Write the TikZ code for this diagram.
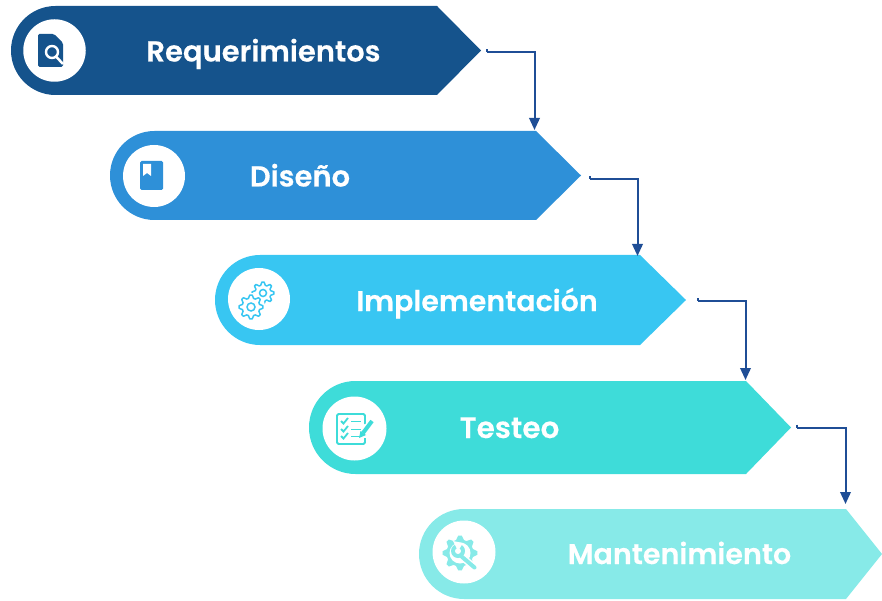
\documentclass[tikz,border=0pt]{standalone}
\usepackage{fontspec}
\setmainfont{Poppins}[BoldFont={Poppins SemiBold},BoldFeatures={FakeBold=0.3}]
\usetikzlibrary{arrows.meta,calc}
\definecolor{cA}{HTML}{15538C}
\definecolor{cB}{HTML}{2E90D8}
\definecolor{cC}{HTML}{38C6F2}
\definecolor{cD}{HTML}{3EDCD9}
\definecolor{cE}{HTML}{87EAE8}
\definecolor{link}{HTML}{1F4E96}
\newcommand{\stage}[7]{% name, colour, left, top, bottom, shoulder, tip
  \pgfmathsetmacro{\rr}{(#5-#4)/2}
  \pgfmathsetmacro{\mm}{(#5+#4)/2}
  \fill[#2] (#3+\rr,#4) -- (#6,#4) -- (#7,\mm) -- (#6,#5) -- (#3+\rr,#5)
     arc[start angle=-90,end angle=-270,radius=\rr pt];
  \node[box,minimum width=#7-#3,minimum height=#5-#4] (#1) at ({(#3+#7)/2},\mm) {};
}
\newcommand{\gearpath}[4]{% cx, cy, outer, inner
  plot[samples at={0,1,...,31},variable=\k] ({#1+((mod(\k,4)<2)?#3:#4)*cos((\k-0.5)*11.25)},{#2+((mod(\k,4)<2)?#3:#4)*sin((\k-0.5)*11.25)}) -- cycle
}
\tikzset{
  x=1pt,y=-1pt,
  box/.style={inner sep=0pt,outer sep=0pt,draw=none,fill=none,rectangle},
  lbl/.style={inner sep=0pt,anchor=base,text=white,font=\bfseries\fontsize{#1}{#1}\selectfont},
  disc/.style={circle,fill=white,inner sep=0pt,minimum size=#1},
  conn/.style={draw=link,line width=2pt,-{Triangle[width=10.5pt,length=12pt]}},
  stub/.style={draw=link,line width=2pt}
}
\begin{document}
\begin{tikzpicture}
\useasboundingbox (0,0) rectangle (882,601);
\stage{s1}{cA}{11}{6}{95}{437}{481}
\stage{s2}{cB}{110}{131}{220}{536}{581}
\stage{s3}{cC}{215}{255}{345}{640}{686}
\stage{s4}{cD}{309}{381}{474}{746}{791}
\stage{s5}{cE}{419}{509}{599}{846}{882}
% discs
\node[disc=62.5pt] (d1) at (54.5,50.5) {};
\node[disc=62pt] (d2) at (154,176) {};
\node[disc=62pt] (d3) at (259,299) {};
\node[disc=64pt] (d4) at (354.5,428.5) {};
\node[disc=63pt] (d5) at (464,552) {};
% labels
\node[lbl=29] (t1) at (263.5,61.5) {Requerimientos};
\node[lbl=29] (t2) at (300,186.5) {Diseño};
\node[lbl=28.5] (t3) at (477,311) {Implementación};
\node[lbl=29.5] (t4) at (509.5,438) {Testeo};
\node[lbl=28.6] (t5) at (679.5,564) {Mantenimiento};
% icon 1: document with lens
\fill[cA,rounded corners=1.5pt] (38,34) -- (54,34) -- (63,43) -- (63,67) -- (38,67) -- cycle;
\draw[white,line width=2.4pt] (52,52) circle[radius=6];
\draw[white,line width=2.5pt] (56.5,57) -- (63,64);
% icon 2: book
\fill[cB,rounded corners=1.5pt] (140,161) rectangle (163,190);
\fill[white] (143,164) -- (151,164) -- (151,176) -- (147,173) -- (143,176) -- cycle;
% icon 3: gears
\draw[cC,line width=1.5pt,line join=round] \gearpath{263}{293}{11}{8};
\fill[white] (251,307) circle[radius=14];
\draw[cC,line width=1.5pt] (263,293) circle[radius=3.5];
\draw[cC,line width=1.5pt,line join=round] \gearpath{251}{307}{12}{9};
\draw[cC,line width=1.5pt] (251,307) circle[radius=4];
% icon 4: checklist
\draw[cD,line width=1.8pt,rounded corners=1.5pt] (365,424) -- (365,414) -- (337,414) -- (337,444) -- (365,444) -- (365,438);
\foreach \yy in {421,429,436}{
  \draw[cD,line width=1.8pt] (341,\yy) -- (343.5,\yy+2.5) -- (348,\yy-3);
  \draw[cD,line width=1.8pt] (351,\yy+0.5) -- (361,\yy+0.5);
}
\draw[white,line width=7pt] (372,421) -- (362,435);
\draw[cD,line width=4pt] (372,421) -- (363,433);
\fill[cD] (360.5,431) -- (366,435) -- (359,438) -- cycle;
% icon 5: gear and wrench
\fill[cE,line join=round] \gearpath{460}{553}{17.5}{13.5};
\fill[white] (460,553) circle[radius=10.5];
\draw[white,line width=7pt,line cap=round] (461,556) -- (475,568);
\draw[cE,line width=4pt,line cap=round] (461,556) -- (474.5,567.5);
\fill[cE] (458,551) circle[radius=7];
\fill[white] (458,551) circle[radius=3];
\fill[white] (458,551) -- (453,541) -- (463,543) -- cycle;
% connectors
\coordinate (c1) at ($(s1.east)+(6,2)$);
\coordinate (c2) at ($(s2.east)+(9,3.5)$);
\coordinate (c3) at ($(s3.east)+(12,1)$);
\coordinate (c4) at ($(s4.east)+(6,0)$);
\coordinate (e2) at ($(s2.north west)+(424.5,-1)$);
\coordinate (e3) at ($(s3.north west)+(422.5,1)$);
\coordinate (e4) at ($(s4.north west)+(436.5,-1)$);
\coordinate (e5) at ($(s5.north west)+(426.5,-5)$);
\draw[stub] ($(c1)+(0,-3)$) -- (c1);
\draw[stub] ($(c2)+(0,-3)$) -- (c2);
\draw[stub] ($(c3)+(0,-3)$) -- (c3);
\draw[stub] ($(c4)+(0,-3)$) -- (c4);
\draw[conn] (c1) -| (e2);
\draw[conn] (c2) -| (e3);
\draw[conn] (c3) -| (e4);
\draw[conn] (c4) -| (e5);
\end{tikzpicture}
\end{document}
